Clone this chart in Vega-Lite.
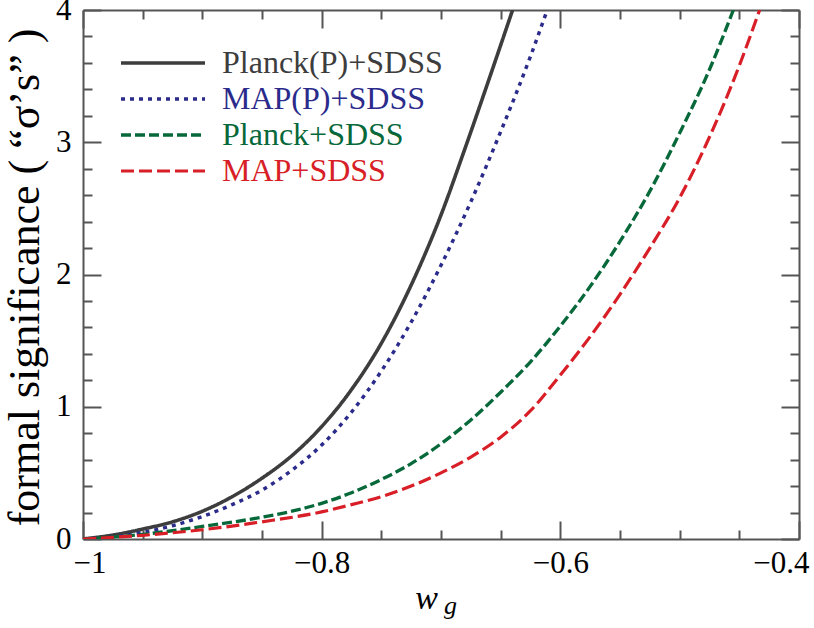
{
  "$schema": "https://vega.github.io/schema/vega-lite/v6.json",
  "width": 716,
  "height": 529,
  "autosize": {"type": "none"},
  "padding": {"left": 83, "top": 10, "right": 15, "bottom": 89},
  "config": {
    "font": "Liberation Serif",
    "view": {"stroke": null},
    "axis": {"grid": false, "domainColor": "#555555", "domainWidth": 2, "tickColor": "#555555", "tickWidth": 2, "labelFont": "Liberation Serif", "labelFontSize": 31, "labelColor": "#000000", "titleFont": "Liberation Serif", "titleFontWeight": "normal", "titleColor": "#000000"}
  },
  "datasets": {
    "curves": [
      {"w": -1.0, "s": 0, "series": "Planck(P)+SDSS"},
      {"w": -0.975, "s": 0.03, "series": "Planck(P)+SDSS"},
      {"w": -0.95, "s": 0.075, "series": "Planck(P)+SDSS"},
      {"w": -0.925, "s": 0.13, "series": "Planck(P)+SDSS"},
      {"w": -0.9, "s": 0.21, "series": "Planck(P)+SDSS"},
      {"w": -0.875, "s": 0.32, "series": "Planck(P)+SDSS"},
      {"w": -0.85, "s": 0.46, "series": "Planck(P)+SDSS"},
      {"w": -0.825, "s": 0.63, "series": "Planck(P)+SDSS"},
      {"w": -0.8, "s": 0.85, "series": "Planck(P)+SDSS"},
      {"w": -0.775, "s": 1.13, "series": "Planck(P)+SDSS"},
      {"w": -0.75, "s": 1.48, "series": "Planck(P)+SDSS"},
      {"w": -0.725, "s": 1.92, "series": "Planck(P)+SDSS"},
      {"w": -0.7, "s": 2.45, "series": "Planck(P)+SDSS"},
      {"w": -0.68, "s": 2.95, "series": "Planck(P)+SDSS"},
      {"w": -0.66, "s": 3.47, "series": "Planck(P)+SDSS"},
      {"w": -0.64, "s": 4.0, "series": "Planck(P)+SDSS"},
      {"w": -1.0, "s": 0, "series": "MAP(P)+SDSS"},
      {"w": -0.975, "s": 0.015, "series": "MAP(P)+SDSS"},
      {"w": -0.95, "s": 0.05, "series": "MAP(P)+SDSS"},
      {"w": -0.925, "s": 0.1, "series": "MAP(P)+SDSS"},
      {"w": -0.9, "s": 0.17, "series": "MAP(P)+SDSS"},
      {"w": -0.875, "s": 0.26, "series": "MAP(P)+SDSS"},
      {"w": -0.85, "s": 0.37, "series": "MAP(P)+SDSS"},
      {"w": -0.825, "s": 0.52, "series": "MAP(P)+SDSS"},
      {"w": -0.8, "s": 0.71, "series": "MAP(P)+SDSS"},
      {"w": -0.775, "s": 0.96, "series": "MAP(P)+SDSS"},
      {"w": -0.75, "s": 1.27, "series": "MAP(P)+SDSS"},
      {"w": -0.725, "s": 1.64, "series": "MAP(P)+SDSS"},
      {"w": -0.7, "s": 2.07, "series": "MAP(P)+SDSS"},
      {"w": -0.675, "s": 2.55, "series": "MAP(P)+SDSS"},
      {"w": -0.65, "s": 3.08, "series": "MAP(P)+SDSS"},
      {"w": -0.625, "s": 3.65, "series": "MAP(P)+SDSS"},
      {"w": -0.611, "s": 4.0, "series": "MAP(P)+SDSS"},
      {"w": -1.0, "s": 0, "series": "Planck+SDSS"},
      {"w": -0.95, "s": 0.035, "series": "Planck+SDSS"},
      {"w": -0.9, "s": 0.095, "series": "Planck+SDSS"},
      {"w": -0.85, "s": 0.165, "series": "Planck+SDSS"},
      {"w": -0.825, "s": 0.21, "series": "Planck+SDSS"},
      {"w": -0.8, "s": 0.27, "series": "Planck+SDSS"},
      {"w": -0.775, "s": 0.35, "series": "Planck+SDSS"},
      {"w": -0.75, "s": 0.45, "series": "Planck+SDSS"},
      {"w": -0.725, "s": 0.57, "series": "Planck+SDSS"},
      {"w": -0.7, "s": 0.72, "series": "Planck+SDSS"},
      {"w": -0.675, "s": 0.9, "series": "Planck+SDSS"},
      {"w": -0.65, "s": 1.11, "series": "Planck+SDSS"},
      {"w": -0.625, "s": 1.34, "series": "Planck+SDSS"},
      {"w": -0.6, "s": 1.61, "series": "Planck+SDSS"},
      {"w": -0.575, "s": 1.91, "series": "Planck+SDSS"},
      {"w": -0.55, "s": 2.25, "series": "Planck+SDSS"},
      {"w": -0.525, "s": 2.63, "series": "Planck+SDSS"},
      {"w": -0.5, "s": 3.07, "series": "Planck+SDSS"},
      {"w": -0.475, "s": 3.55, "series": "Planck+SDSS"},
      {"w": -0.455, "s": 4.0, "series": "Planck+SDSS"},
      {"w": -1.0, "s": 0, "series": "MAP+SDSS"},
      {"w": -0.95, "s": 0.028, "series": "MAP+SDSS"},
      {"w": -0.9, "s": 0.07, "series": "MAP+SDSS"},
      {"w": -0.85, "s": 0.13, "series": "MAP+SDSS"},
      {"w": -0.8, "s": 0.205, "series": "MAP+SDSS"},
      {"w": -0.775, "s": 0.26, "series": "MAP+SDSS"},
      {"w": -0.75, "s": 0.32, "series": "MAP+SDSS"},
      {"w": -0.725, "s": 0.4, "series": "MAP+SDSS"},
      {"w": -0.7, "s": 0.5, "series": "MAP+SDSS"},
      {"w": -0.675, "s": 0.62, "series": "MAP+SDSS"},
      {"w": -0.65, "s": 0.77, "series": "MAP+SDSS"},
      {"w": -0.625, "s": 0.97, "series": "MAP+SDSS"},
      {"w": -0.6, "s": 1.24, "series": "MAP+SDSS"},
      {"w": -0.575, "s": 1.53, "series": "MAP+SDSS"},
      {"w": -0.55, "s": 1.85, "series": "MAP+SDSS"},
      {"w": -0.525, "s": 2.2, "series": "MAP+SDSS"},
      {"w": -0.5, "s": 2.58, "series": "MAP+SDSS"},
      {"w": -0.475, "s": 3.04, "series": "MAP+SDSS"},
      {"w": -0.45, "s": 3.58, "series": "MAP+SDSS"},
      {"w": -0.433, "s": 4.0, "series": "MAP+SDSS"}
    ]
  },
  "data": {"name": "curves"},
  "layer": [
    {
      "mark": {"type": "line", "clip": true, "strokeCap": "butt", "interpolate": "monotone"},
      "encoding": {
        "x": {
          "field": "w", "type": "quantitative",
          "scale": {"domain": [-1, -0.4], "nice": false, "zero": false},
          "axis": {
            "orient": "bottom",
            "values": [-1, -0.95, -0.9, -0.85, -0.8, -0.75, -0.7, -0.65, -0.6, -0.55, -0.5, -0.45, -0.4],
            "labelExpr": "abs(datum.value * 5 - round(datum.value * 5)) < 0.001 ? format(datum.value, '.1~f') : ''",
            "tickSize": {"condition": {"test": "abs(datum.value * 5 - round(datum.value * 5)) < 0.001", "value": -18}, "value": -9},
            "labelPadding": 27,
            "labelFlush": true,
            "labelFlushOffset": 10,
            "title": "w",
            "titleFontSize": 34,
            "titleFontStyle": "italic",
            "titleX": 343,
            "titleY": 69,
            "titleBaseline": "alphabetic",
            "titleAlign": "center"
          }
        },
        "y": {
          "field": "s", "type": "quantitative",
          "scale": {"domain": [0, 4], "nice": false},
          "axis": {
            "orient": "left",
            "values": [0, 0.2, 0.4, 0.6, 0.8, 1, 1.2, 1.4, 1.6, 1.8, 2, 2.2, 2.4, 2.6, 2.8, 3, 3.2, 3.4, 3.6, 3.8, 4],
            "labelExpr": "abs(datum.value - round(datum.value)) < 0.001 ? format(datum.value, 'd') : ''",
            "tickSize": {"condition": {"test": "abs(datum.value - round(datum.value)) < 0.001", "value": -18}, "value": -9},
            "labelPadding": 30,
            "title": "formal significance ( “σ’s” )",
            "titleFontSize": 44,
            "titleX": -58,
            "titleY": 267,
            "titleAngle": -90,
            "titleBaseline": "middle",
            "titleAlign": "center"
          }
        },
        "color": {
          "field": "series", "type": "nominal",
          "scale": {"domain": ["Planck(P)+SDSS", "MAP(P)+SDSS", "Planck+SDSS", "MAP+SDSS"], "range": ["#3d3d3d", "#2b2b8c", "#07683a", "#d81f27"]},
          "legend": {
            "title": null,
            "orient": "none",
            "legendX": 64,
            "legendY": 37,
            "symbolType": "M-3,0H3",
            "symbolSize": 784,
            "symbolStrokeWidth": 3,
            "labelFontSize": 32,
            "labelFont": "Liberation Serif",
            "labelLimit": 400,
            "labelOffset": 43,
            "rowPadding": 4,
            "padding": 0,
            "encode": {"labels": {"update": {"fill": {"scale": "color", "field": "value"}}}}
          }
        },
        "strokeDash": {
          "field": "series", "type": "nominal",
          "scale": {"domain": ["Planck(P)+SDSS", "MAP(P)+SDSS", "Planck+SDSS", "MAP+SDSS"], "range": [[1, 0], [4, 5], [10, 4], [13, 5]]},
          "legend": null
        },
        "strokeWidth": {
          "field": "series", "type": "nominal",
          "scale": {"domain": ["Planck(P)+SDSS", "MAP(P)+SDSS", "Planck+SDSS", "MAP+SDSS"], "range": [3.6, 3.2, 3.5, 2.6]},
          "legend": null
        }
      }
    },
    {
      "mark": {"type": "point", "opacity": 0},
      "encoding": {
        "x": {
          "field": "w", "type": "quantitative",
          "axis": {
            "orient": "top",
            "values": [-1, -0.95, -0.9, -0.85, -0.8, -0.75, -0.7, -0.65, -0.6, -0.55, -0.5, -0.45, -0.4],
            "labels": false,
            "tickSize": {"condition": {"test": "abs(datum.value * 5 - round(datum.value * 5)) < 0.001", "value": -18}, "value": -9},
            "title": null
          }
        },
        "y": {
          "field": "s", "type": "quantitative",
          "axis": {
            "orient": "right",
            "values": [0, 0.2, 0.4, 0.6, 0.8, 1, 1.2, 1.4, 1.6, 1.8, 2, 2.2, 2.4, 2.6, 2.8, 3, 3.2, 3.4, 3.6, 3.8, 4],
            "labels": false,
            "tickSize": {"condition": {"test": "abs(datum.value - round(datum.value)) < 0.001", "value": -18}, "value": -9},
            "title": null
          }
        }
      }
    },
    {
      "data": {"values": [{"t": "g"}]},
      "mark": {"type": "text", "fontStyle": "italic", "fontSize": 26, "font": "Liberation Serif", "baseline": "alphabetic", "align": "center", "clip": false, "color": "#000000"},
      "encoding": {
        "text": {"field": "t"},
        "x": {"datum": -0.692, "axis": null},
        "y": {"datum": -0.567, "axis": null}
      }
    }
  ],
  "resolve": {"axis": {"x": "independent", "y": "independent"}}
}
